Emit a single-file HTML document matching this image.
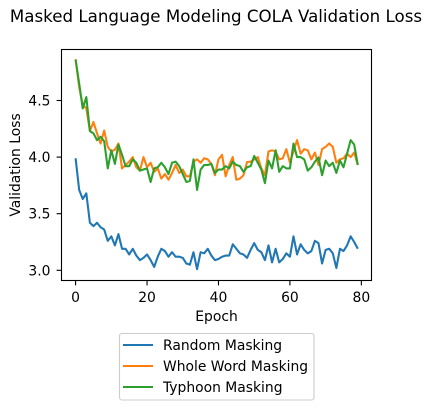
<!DOCTYPE html>
<html>
<head>
<meta charset="utf-8">
<title>Masked Language Modeling COLA Validation Loss</title>
<style>
html,body{margin:0;padding:0;background:#fff;}
svg{display:block;}
text{font-family:"DejaVu Sans",sans-serif;fill:#000;}
</style>
</head>
<body>
<svg id="chart" xmlns="http://www.w3.org/2000/svg" width="432" height="410" viewBox="0 0 432 410">
  <text x="216" y="22" font-size="16.67" text-anchor="middle">Masked Language Modeling COLA Validation Loss</text>
  <g id="marks"></g>
  <rect x="61.5" y="49.5" width="310" height="231" fill="none" stroke="#000" stroke-width="1.1"></rect>
  <g id="axes"></g>
  <text x="216.5" y="321" font-size="13.89" text-anchor="middle">Epoch</text>
  <text transform="translate(20,165) rotate(-90)" font-size="13.89" text-anchor="middle">Validation Loss</text>
  <g>
    <rect x="119.5" y="333.5" width="194.5" height="66.5" rx="2.5" fill="#fff" stroke="#ccc" stroke-width="1.1"></rect>
    <line x1="123" x2="153" y1="345" y2="345" stroke="#1f77b4" stroke-width="2.08"></line>
    <text x="163" y="350" font-size="13.89">Random Masking</text>
    <line x1="123" x2="153" y1="366" y2="366" stroke="#ff7f0e" stroke-width="2.08"></line>
    <text x="163" y="371" font-size="13.89">Whole Word Masking</text>
    <line x1="123" x2="153" y1="387" y2="387" stroke="#2ca02c" stroke-width="2.08"></line>
    <text x="163" y="392" font-size="13.89">Typhoon Masking</text>
  </g>
</svg>
<script>
const xTicks = [0, 20, 40, 60, 80];
const yTicks = [3.0, 3.5, 4.0, 4.5];
const randomMasking = [3.99,3.71,3.63,3.68,3.42,3.39,3.42,3.38,3.36,3.26,3.30,3.22,3.32,3.19,3.19,3.14,3.19,3.13,3.09,3.11,3.14,3.09,3.03,3.12,3.19,3.17,3.12,3.16,3.12,3.12,3.11,3.06,3.05,3.16,3.01,3.16,3.15,3.19,3.13,3.09,3.10,3.12,3.13,3.13,3.23,3.19,3.15,3.14,3.11,3.18,3.24,3.18,3.16,3.09,3.22,3.07,3.19,3.07,3.10,3.15,3.12,3.30,3.14,3.23,3.18,3.15,3.17,3.26,3.24,3.06,3.18,3.19,3.15,3.02,3.19,3.17,3.22,3.30,3.25,3.19];
const wholeWordMasking = [4.865,4.62,4.46,4.43,4.23,4.31,4.21,4.12,4.235,4.09,4.05,4.065,4.12,3.90,3.93,3.96,4.0,3.91,3.88,4.0,3.91,3.95,3.87,3.90,3.81,3.85,3.80,3.86,3.93,3.86,3.89,3.83,3.83,3.96,3.98,3.95,3.99,3.98,3.94,3.84,3.98,4.02,3.83,3.93,4.0,3.80,3.81,3.84,3.956,3.96,3.98,4.0,3.90,3.84,4.05,4.06,4.05,3.98,3.99,4.07,3.95,4.05,4.15,4.03,4.07,4.06,3.98,4.04,3.93,4.07,4.09,4.12,4.09,3.95,3.98,3.99,4.03,4.0,4.04,3.93];
const typhoonMasking = [4.86,4.65,4.43,4.53,4.23,4.21,4.15,4.18,4.14,3.90,4.06,3.94,4.11,4.02,3.92,3.92,3.98,3.95,3.88,3.89,3.90,3.78,3.90,3.91,3.95,3.91,3.85,3.95,3.96,3.92,3.85,3.78,3.79,3.98,3.71,3.89,3.93,3.93,3.94,3.86,3.89,3.89,3.92,3.90,3.96,3.93,3.92,3.87,3.91,3.92,4.01,3.95,3.89,3.77,3.97,3.90,4.06,3.87,3.92,3.90,3.90,4.12,4.0,4.0,3.98,3.88,3.91,3.96,3.997,3.84,3.97,3.92,3.95,3.86,3.97,3.91,4.03,4.15,4.11,3.93];

const seriesColors = ['#1f77b4', '#ff7f0e', '#2ca02c'];
const SVG_NS = 'http://www.w3.org/2000/svg';

function xScale(epoch) { return 75.6 + epoch * 3.572; }
function yScale(loss) { return 270.3 - (loss - 3) * 113.2; }

const marks = document.getElementById('marks');
const axes = document.getElementById('axes');

function drawLine(values, color, name) {
  const path = document.createElementNS(SVG_NS, 'path');
  
  
  path.setAttribute('fill', 'none');
  path.setAttribute('stroke', color);
  path.setAttribute('stroke-width', '2.08');
  path.setAttribute('stroke-linejoin', 'round');
  path.setAttribute('d', values.map(function (v, i) {
    return (i ? 'L' : 'M') + xScale(i).toFixed(2) + ' ' + yScale(v).toFixed(2);
  }).join(' '));
  marks.appendChild(path);
}
drawLine(randomMasking, seriesColors[0], 'series-random-masking');
drawLine(wholeWordMasking, seriesColors[1], 'series-whole-word-masking');
drawLine(typhoonMasking, seriesColors[2], 'series-typhoon-masking');

xTicks.forEach(function (t) {
  const tick = document.createElementNS(SVG_NS, 'line');
  
  
  tick.setAttribute('x1', xScale(t));
  tick.setAttribute('x2', xScale(t));
  tick.setAttribute('y1', 280.5);
  tick.setAttribute('y2', 285.4);
  tick.setAttribute('stroke', '#000');
  tick.setAttribute('stroke-width', '1.1');
  axes.appendChild(tick);
  const label = document.createElementNS(SVG_NS, 'text');
  
  
  label.setAttribute('x', xScale(t));
  label.setAttribute('y', 302);
  label.setAttribute('font-size', '13.89');
  label.setAttribute('text-anchor', 'middle');
  label.textContent = String(t);
  axes.appendChild(label);
});

yTicks.forEach(function (t) {
  const tick = document.createElementNS(SVG_NS, 'line');
  
  
  tick.setAttribute('x1', 56.6);
  tick.setAttribute('x2', 61.5);
  tick.setAttribute('y1', yScale(t));
  tick.setAttribute('y2', yScale(t));
  tick.setAttribute('stroke', '#000');
  tick.setAttribute('stroke-width', '1.1');
  axes.appendChild(tick);
  const label = document.createElementNS(SVG_NS, 'text');
  
  
  label.setAttribute('x', 50.5);
  label.setAttribute('y', yScale(t) + 5);
  label.setAttribute('font-size', '13.89');
  label.setAttribute('text-anchor', 'end');
  label.textContent = t.toFixed(1);
  axes.appendChild(label);
});
</script>
</body>
</html>
